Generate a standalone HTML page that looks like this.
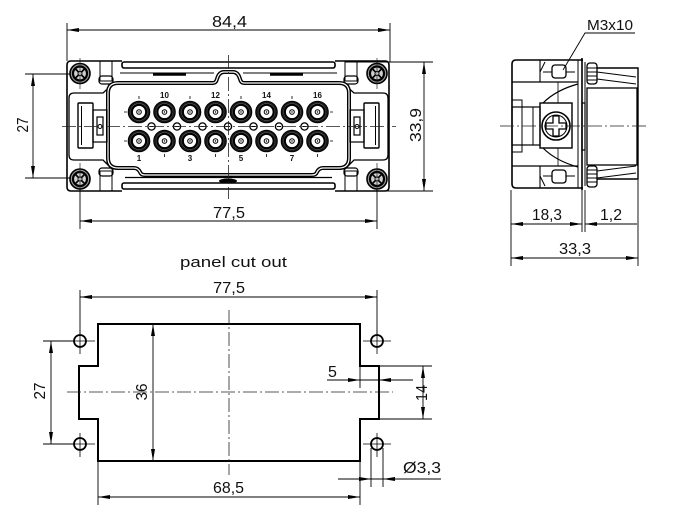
<!DOCTYPE html>
<html><head><meta charset="utf-8">
<style>
html,body{margin:0;padding:0;background:#fff;}
svg{display:block;}
text{font-family:"Liberation Sans",sans-serif;fill:#111;}
</style></head><body>
<svg width="683" height="515" viewBox="0 0 683 515" xmlns="http://www.w3.org/2000/svg">
<rect width="683" height="515" fill="#fff"/>

<!-- ================= FRONT VIEW ================= -->
<g fill="none" stroke="#000">
  <!-- ears outline -->
  <path d="M122,61 H71 Q67,61 67,65 V187 Q67,191 71,191 H122" stroke-width="1.6"/>
  <path d="M335,61 H385 Q389,61 389,65 V187 Q389,191 385,191 H335" stroke-width="1.6"/>
  <!-- ear details -->
  <rect x="100" y="61" width="12" height="20" stroke-width="1"/>
  <rect x="99" y="76" width="14" height="8" rx="3" stroke-width="1.2"/>
  <rect x="100" y="171" width="12" height="20" stroke-width="1"/>
  <rect x="99" y="168" width="14" height="8" rx="3" stroke-width="1.2"/>
  <rect x="345" y="61" width="12" height="20" stroke-width="1"/>
  <rect x="344" y="76" width="14" height="8" rx="3" stroke-width="1.2"/>
  <rect x="345" y="171" width="12" height="20" stroke-width="1"/>
  <rect x="344" y="168" width="14" height="8" rx="3" stroke-width="1.2"/>
  <line x1="112" y1="61" x2="112" y2="66" stroke-width="1"/>
  <line x1="345" y1="61" x2="345" y2="66" stroke-width="1"/>
  <!-- top housing double line -->
  <rect x="122" y="62" width="213" height="6" rx="2" stroke-width="1.6"/>
  <path d="M120,73 H214 M243,73 H337" stroke-width="1"/>
  <path d="M153,74.5 H186 M270,74.5 H303" stroke-width="2.6"/>
  <!-- bottom housing -->
  <rect x="122" y="183" width="213" height="6" rx="2" stroke-width="1.6"/>
  <path d="M125,177.5 H332" stroke-width="1.2"/>
  <ellipse cx="228" cy="181" rx="9" ry="2.5" fill="#000" stroke="none"/>
  <!-- middle housing line -->
  <path d="M113,84 L103,93 H74 Q69,93 69,98 V155 Q69,160 74,160 H103 L113,170" stroke-width="1.3"/>
  <path d="M344,84 L354,93 H383 Q388,93 388,98 V155 Q388,160 383,160 H354 L344,170" stroke-width="1.3"/>
  <!-- cavity double line -->
  <path id="cav" d="M118,83 H213 Q216,83 217,79 Q219,72 224,72 H233 Q238,72 240,79 Q241,83 244,83 H339 Q349,83 349,93 V158 Q349,168 339,168 H323 Q319,168 317,172 Q316,175 312,175 H145 Q141,175 140,172 Q138,168 134,168 H118 Q108,168 108,158 V93 Q108,83 118,83 Z" stroke-width="4"/>
  <path d="M118,83 H213 Q216,83 217,79 Q219,72 224,72 H233 Q238,72 240,79 Q241,83 244,83 H339 Q349,83 349,93 V158 Q349,168 339,168 H323 Q319,168 317,172 Q316,175 312,175 H145 Q141,175 140,172 Q138,168 134,168 H118 Q108,168 108,158 V93 Q108,83 118,83 Z" stroke="#fff" stroke-width="1.2"/>
  <!-- latches -->
  <rect x="78" y="103" width="15" height="45" rx="1" stroke-width="1.4"/>
  <line x1="81.5" y1="106" x2="81.5" y2="145" stroke-width="1"/>
  <rect x="93" y="110" width="14" height="32" stroke-width="1.2"/>
  <rect x="97" y="117" width="6" height="18" stroke-width="1.2"/>
  <circle cx="100" cy="126.5" r="2" stroke-width="1"/>
  <rect x="364" y="103" width="15" height="45" rx="1" stroke-width="1.4"/>
  <line x1="375.5" y1="106" x2="375.5" y2="145" stroke-width="1"/>
  <rect x="350" y="110" width="14" height="32" stroke-width="1.2"/>
  <rect x="354" y="117" width="6" height="18" stroke-width="1.2"/>
  <circle cx="357" cy="126.5" r="2" stroke-width="1"/>
</g>

<!-- screws front -->
<g id="scr" stroke="#000" fill="none">
  <g transform="translate(80,73.5)">
    <circle r="10" fill="#9a9a9a" stroke-width="1.6"/>
    <circle r="7" fill="#d0d0d0" stroke-width="2.2"/>
    <path d="M-5,-5 L5,5 M-5,5 L5,-5" stroke-width="1.6"/>
    <circle r="2" fill="#fff" stroke-width="1"/>
  </g>
  <g transform="translate(80,179)">
    <circle r="10" fill="#9a9a9a" stroke-width="1.6"/>
    <circle r="7" fill="#d0d0d0" stroke-width="2.2"/>
    <path d="M-5,-5 L5,5 M-5,5 L5,-5" stroke-width="1.6"/>
    <circle r="2" fill="#fff" stroke-width="1"/>
  </g>
  <g transform="translate(377,73.5)">
    <circle r="10" fill="#9a9a9a" stroke-width="1.6"/>
    <circle r="7" fill="#d0d0d0" stroke-width="2.2"/>
    <path d="M-5,-5 L5,5 M-5,5 L5,-5" stroke-width="1.6"/>
    <circle r="2" fill="#fff" stroke-width="1"/>
  </g>
  <g transform="translate(377,179)">
    <circle r="10" fill="#9a9a9a" stroke-width="1.6"/>
    <circle r="7" fill="#d0d0d0" stroke-width="2.2"/>
    <path d="M-5,-5 L5,5 M-5,5 L5,-5" stroke-width="1.6"/>
    <circle r="2" fill="#fff" stroke-width="1"/>
  </g>
</g>

<!-- pins -->
<defs>
  <g id="pin">
    <circle r="10.8" fill="#1a1a1a" stroke="#000" stroke-width="1"/>
    <circle r="8.6" fill="#8a8a8a" stroke="none"/>
    <circle r="7.2" fill="#fff" stroke="#000" stroke-width="2.2"/>
    <circle r="2.3" fill="none" stroke="#000" stroke-width="1"/>
    <circle r="0.7" fill="#000"/>
  </g>
  <g id="sm">
    <circle r="3.6" fill="#fff" stroke="#000" stroke-width="1.3"/>
    <line x1="-2.2" y1="0" x2="2.2" y2="0" stroke="#000" stroke-width="1"/>
  </g>
</defs>
<g>
  <use href="#pin" x="139" y="112"/><use href="#pin" x="164.5" y="112"/><use href="#pin" x="190" y="112"/><use href="#pin" x="215.5" y="112"/>
  <use href="#pin" x="241" y="112"/><use href="#pin" x="266.5" y="112"/><use href="#pin" x="292" y="112"/><use href="#pin" x="317.5" y="112"/>
  <use href="#pin" x="139" y="141"/><use href="#pin" x="164.5" y="141"/><use href="#pin" x="190" y="141"/><use href="#pin" x="215.5" y="141"/>
  <use href="#pin" x="241" y="141"/><use href="#pin" x="266.5" y="141"/><use href="#pin" x="292" y="141"/><use href="#pin" x="317.5" y="141"/>
  <use href="#sm" x="151.5" y="126.5"/><use href="#sm" x="177" y="126.5"/><use href="#sm" x="202.5" y="126.5"/><use href="#sm" x="228" y="126.5"/>
  <use href="#sm" x="253.5" y="126.5"/><use href="#sm" x="279" y="126.5"/><use href="#sm" x="304.5" y="126.5"/>
</g>
<g stroke="#000" stroke-width="0.8">
  <path d="M139,96 V99 M190,96 V99 M241,96 V99 M292,96 V99 M164.5,154 V157 M215.5,154 V157 M266.5,154 V157 M317.5,154 V157 M124,112 H127 M330,112 H333 M124,141 H127 M330,141 H333"/>
</g>
<g font-size="8" font-weight="bold" text-anchor="middle">
  <text x="164.5" y="98">10</text><text x="215.5" y="98">12</text><text x="266.5" y="98">14</text><text x="317.5" y="98">16</text>
  <text x="139" y="161">1</text><text x="190" y="161">3</text><text x="241" y="161">5</text><text x="292" y="161">7</text>
</g>

<!-- front center lines -->
<g stroke="#222" stroke-width="0.8" fill="none" stroke-dasharray="14 3 2 3">
  <line x1="62" y1="126.5" x2="396" y2="126.5"/>
  <line x1="228.5" y1="55" x2="228.5" y2="199"/>
</g>
<g stroke="#222" stroke-width="0.7">
  <line x1="80" y1="58" x2="80" y2="89"/><line x1="80" y1="163" x2="80" y2="192"/>
  <line x1="377" y1="58" x2="377" y2="89"/><line x1="377" y1="163" x2="377" y2="192"/>
</g>

<!-- front dimensions -->
<g stroke="#000" stroke-width="0.9" fill="none">
  <line x1="67" y1="23" x2="67" y2="61"/><line x1="390" y1="23" x2="390" y2="62"/>
  <line x1="67" y1="30" x2="390" y2="30"/>
  <line x1="345" y1="62" x2="433" y2="62"/><line x1="345" y1="191" x2="433" y2="191"/>
  <line x1="424" y1="62" x2="424" y2="191"/>
  <line x1="25" y1="74" x2="70" y2="74"/><line x1="25" y1="178" x2="70" y2="178"/>
  <line x1="33" y1="74" x2="33" y2="178"/>
  <line x1="80" y1="189" x2="80" y2="229"/><line x1="377" y1="189" x2="377" y2="229"/>
  <line x1="80" y1="221" x2="377" y2="221"/>
</g>
<g fill="#000">
  <polygon points="67,30 79,28 79,32"/><polygon points="390,30 378,28 378,32"/>
  <polygon points="424,62 422,74 426,74"/><polygon points="424,191 422,179 426,179"/>
  <polygon points="33,74 31,86 35,86"/><polygon points="33,178 31,166 35,166"/>
  <polygon points="80,221 92,219 92,223"/><polygon points="377,221 365,219 365,223"/>
</g>
<g font-size="16">
  <text x="212" y="27" textLength="35" lengthAdjust="spacingAndGlyphs">84,4</text>
  <text transform="translate(421,125) rotate(-90)" text-anchor="middle" textLength="34" lengthAdjust="spacingAndGlyphs">33,9</text>
  <text transform="translate(28,125) rotate(-90)" text-anchor="middle" textLength="15" lengthAdjust="spacingAndGlyphs">27</text>
  <text x="213" y="218" textLength="32" lengthAdjust="spacingAndGlyphs">77,5</text>
</g>

<!-- ================= SIDE VIEW ================= -->
<g fill="none" stroke="#000">
  <path d="M583,60 H516 Q512,60 512,64 V184 Q512,188 516,188 H583" stroke-width="1.6"/>
  <line x1="578" y1="60" x2="578" y2="188" stroke-width="1"/>
  <line x1="582" y1="58" x2="582" y2="190" stroke-width="1.6"/>
  <line x1="585" y1="62" x2="585" y2="186" stroke-width="1"/>
  <line x1="512" y1="82" x2="578" y2="82" stroke-width="1.2"/>
  <line x1="512" y1="166" x2="578" y2="166" stroke-width="1.2"/>
  <line x1="540" y1="60" x2="540" y2="82" stroke-width="1.1"/>
  <line x1="540" y1="166" x2="540" y2="188" stroke-width="1.1"/>
  <path d="M545,62 L540,72 M545,186 L540,176" stroke-width="1"/>
  <rect x="552" y="65" width="14" height="13" rx="3" stroke-width="1.3"/>
  <rect x="552" y="170" width="14" height="13" rx="3" stroke-width="1.3"/>
  <path d="M566,72 H575 M566,176 H575 M543,72 H552 M543,176 H552" stroke-width="1"/>
  <!-- left latch -->
  <rect x="512" y="107" width="28" height="38" stroke-width="1.2"/>
  <line x1="522" y1="107" x2="522" y2="145" stroke-width="1"/>
  <line x1="533" y1="107" x2="533" y2="145" stroke-width="1"/>
  <rect x="512" y="100" width="10" height="7" stroke-width="1"/>
  <rect x="512" y="145" width="10" height="7" stroke-width="1"/>
  <!-- square screw box -->
  <rect x="540" y="103" width="32" height="45" stroke-width="1.4"/>
  <circle cx="556" cy="126" r="14" stroke-width="1.6"/>
  <circle cx="556" cy="126" r="11" stroke-width="1"/>
  <path d="M553,116 H559 V123 H566 V129 H559 V136 H553 V129 H546 V123 H553 Z" stroke-width="1.3"/>
  <path d="M543,103 Q556,90 578,84 M543,148 Q556,161 578,167" stroke-width="1.2"/>
  <path d="M558,82 V103 M558,148 V166" stroke-width="0.8"/>
  <!-- right part -->
  <rect x="587" y="63" width="10" height="21" rx="3" stroke-width="1.3"/>
  <rect x="587" y="166" width="10" height="21" rx="3" stroke-width="1.3"/>
  <path d="M587,68 H597 M587,72 H597 M587,76 H597 M587,80 H597 M587,170 H597 M587,174 H597 M587,178 H597 M587,182 H597" stroke-width="0.9"/>
  <path d="M597,68 H638 V179 H597" stroke-width="1.4"/>
  <path d="M597,72 L636,77 M597,79 L636,84 M597,178 L636,173 M597,171 L636,166" stroke-width="0.9"/>
  <rect x="587" y="88" width="50" height="77" stroke-width="1.3"/>
  <rect x="582" y="103" width="3" height="47" stroke-width="1.2"/>
</g>
<g stroke="#222" stroke-width="0.8" stroke-dasharray="14 3 2 3">
  <line x1="500" y1="126" x2="648" y2="126"/>
</g>
<!-- M3x10 leader -->
<path d="M563,70 L585,33 H635" stroke="#000" stroke-width="0.9" fill="none"/>
<text x="587" y="30" font-size="15" textLength="46" lengthAdjust="spacingAndGlyphs">M3x10</text>

<!-- side dims -->
<g stroke="#000" stroke-width="0.9" fill="none">
  <line x1="511" y1="190" x2="511" y2="266"/>
  <line x1="582" y1="190" x2="582" y2="232"/>
  <line x1="585" y1="190" x2="585" y2="232"/>
  <line x1="638" y1="180" x2="638" y2="266"/>
  <line x1="511" y1="224" x2="582" y2="224"/>
  <line x1="585" y1="224" x2="637" y2="224"/>
  <line x1="511" y1="258" x2="638" y2="258"/>
</g>
<g fill="#000">
  <polygon points="511,224 523,222 523,226"/><polygon points="582,224 570,222 570,226"/>
  <polygon points="585,224 597,222 597,226"/>
  <polygon points="511,258 523,256 523,260"/><polygon points="638,258 626,256 626,260"/>
</g>
<g font-size="16">
  <text x="532" y="220" textLength="30" lengthAdjust="spacingAndGlyphs">18,3</text>
  <text x="600" y="220" textLength="22" lengthAdjust="spacingAndGlyphs">1,2</text>
  <text x="559" y="254" textLength="32" lengthAdjust="spacingAndGlyphs">33,3</text>
</g>

<!-- ================= PANEL CUT OUT ================= -->
<text x="180" y="267" font-size="15" textLength="107" lengthAdjust="spacingAndGlyphs">panel cut out</text>
<path d="M98,324 H360 V366 H379 V419 H360 V461 H98 V419 H79 V366 H98 Z" fill="none" stroke="#000" stroke-width="2"/>
<g stroke="#222" stroke-width="0.8" stroke-dasharray="14 3 2 3">
  <line x1="67" y1="392" x2="393" y2="392"/>
  <line x1="229" y1="310" x2="229" y2="475"/>
</g>
<!-- holes -->
<g fill="none" stroke="#000">
  <circle cx="80" cy="341" r="6" stroke-width="1.8"/>
  <circle cx="80" cy="444" r="6" stroke-width="1.8"/>
  <circle cx="377" cy="341" r="6" stroke-width="1.8"/>
  <circle cx="377" cy="444" r="6" stroke-width="1.8"/>
  <g stroke-width="0.8">
    <path d="M80,330 V354 M80,433 V457 M377,330 V354 M377,433 V457"/>
    <path d="M69,341 H95 M69,444 H95 M363,341 H391 M363,444 H391"/>
  </g>
</g>
<!-- panel dims -->
<g stroke="#000" stroke-width="0.9" fill="none">
  <line x1="80" y1="290" x2="80" y2="334"/><line x1="377" y1="290" x2="377" y2="334"/>
  <line x1="80" y1="297" x2="377" y2="297"/>
  <line x1="43" y1="341" x2="74" y2="341"/><line x1="43" y1="444" x2="74" y2="444"/>
  <line x1="51" y1="341" x2="51" y2="444"/>
  <line x1="153" y1="324" x2="153" y2="461"/>
  <line x1="98" y1="461" x2="98" y2="505"/><line x1="360" y1="461" x2="360" y2="505"/>
  <line x1="98" y1="497" x2="360" y2="497"/>
  <line x1="360" y1="366" x2="360" y2="388"/>
  <line x1="327" y1="380" x2="413" y2="380"/>
  <line x1="379" y1="366" x2="432" y2="366"/><line x1="379" y1="419" x2="432" y2="419"/>
  <line x1="423" y1="366" x2="423" y2="419"/>
  <line x1="371" y1="448" x2="371" y2="487"/><line x1="383" y1="448" x2="383" y2="487"/>
  <line x1="338" y1="479" x2="441" y2="479"/>
</g>
<g fill="#000">
  <polygon points="80,297 92,295 92,299"/><polygon points="377,297 365,295 365,299"/>
  <polygon points="51,341 49,353 53,353"/><polygon points="51,444 49,432 53,432"/>
  <polygon points="153,324 151,336 155,336"/><polygon points="153,461 151,449 155,449"/>
  <polygon points="98,497 110,495 110,499"/><polygon points="360,497 348,495 348,499"/>
  <polygon points="360,380 348,378 348,382"/><polygon points="379,380 391,378 391,382"/>
  <polygon points="423,366 421,378 425,378"/><polygon points="423,419 421,407 425,407"/>
  <polygon points="371,479 359,477 359,481"/><polygon points="383,479 395,477 395,481"/>
</g>
<g font-size="16">
  <text x="213" y="293" textLength="32" lengthAdjust="spacingAndGlyphs">77,5</text>
  <text transform="translate(45,391) rotate(-90)" text-anchor="middle" textLength="17" lengthAdjust="spacingAndGlyphs">27</text>
  <text transform="translate(147,392) rotate(-90)" text-anchor="middle" textLength="17" lengthAdjust="spacingAndGlyphs">36</text>
  <text x="213" y="493" textLength="31" lengthAdjust="spacingAndGlyphs">68,5</text>
  <text x="328" y="377">5</text>
  <text transform="translate(427,393) rotate(-90)" text-anchor="middle" textLength="16" lengthAdjust="spacingAndGlyphs">14</text>
  <text x="403" y="473" textLength="38" lengthAdjust="spacingAndGlyphs">Ø3,3</text>
</g>
</svg>
</body></html>
